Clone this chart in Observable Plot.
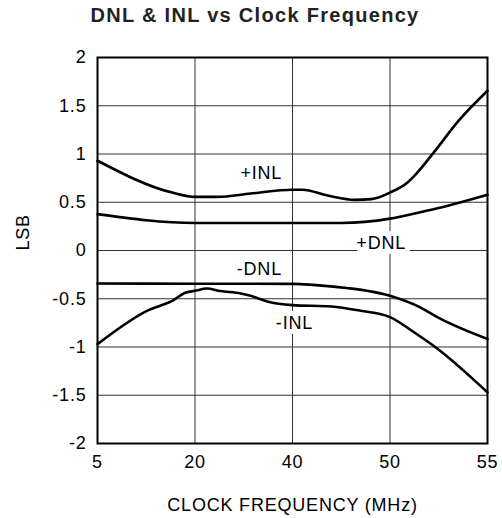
<!DOCTYPE html>
<html><head><meta charset="utf-8">
<script src="https://cdn.jsdelivr.net/npm/d3@7"></script>
<script src="https://cdn.jsdelivr.net/npm/@observablehq/plot@0.6"></script>
<style>
body{margin:0;background:#fff;font-family:"Liberation Sans",Arial,sans-serif;}
#title{height:34px;box-sizing:border-box;padding-top:3px;padding-left:8px;text-align:center;font-weight:bold;font-size:20px;line-height:24px;letter-spacing:1.3px;color:#222;}
#chart svg{display:block;}
#chart svg text{letter-spacing:0.8px;}
</style></head><body>
<div id="title">DNL &amp; INL vs Clock Frequency</div>
<div id="chart"></div>
<script>
// Tick values
const freqTicks = [5, 20, 40, 50, 55];          // MHz (equally spaced on the axis)
const lsbTicks = [-2, -1.5, -1, -0.5, 0, 0.5, 1, 1.5, 2];

// Curves: [clock frequency MHz, LSB]
const plusINL = [[5,0.93],[16.5,0.60],[20,0.556],[24.6,0.556],[31.4,0.59],[40,0.63],[41,0.63],[43.7,0.567],[46.4,0.525],[48.1,0.532],[50,0.60],[50.9,0.705],[51.25,0.774],[52.3,1.03],[53.5,1.34],[55,1.655]];
const plusDNL = [[5,0.377],[20,0.285],[45,0.285],[50,0.33],[51.6,0.40],[52.5,0.44],[55,0.577]];
const minusDNL = [[5,-0.342],[20,-0.344],[40,-0.346],[43.9,-0.372],[50,-0.47],[51.55,-0.59],[52.45,-0.694],[55,-0.918]];
const minusINL = [[5,-0.97],[12.6,-0.625],[16.7,-0.514],[18.4,-0.44],[20,-0.418],[22.4,-0.394],[25.2,-0.42],[29.4,-0.445],[31.4,-0.47],[34.8,-0.528],[40,-0.566],[44,-0.58],[47,-0.625],[50,-0.69],[51.25,-0.85],[52.45,-1.02],[55,-1.47]];

// Curve labels
const seriesNames = ["+INL", "+DNL", "-DNL", "-INL"];
const labelFreq = [33.6, 49.1, 33.2, 40.2];
const labelLSB = [0.80, 0.08, -0.19, -0.755];

// The frequency axis is equally spaced between its tick values
const toPos = d3.scaleLinear().domain(freqTicks).range(d3.range(freqTicks.length));
const curves = [plusINL, plusDNL, minusDNL, minusINL];
const rows = curves.flatMap((c, k) => c.map(([f, v]) => ({series: seriesNames[k], pos: toPos(f), lsb: v})));
const labels = seriesNames.map((name, k) => ({name, pos: toPos(labelFreq[k]), lsb: labelLSB[k]}));
const font = '"Liberation Sans", Arial, sans-serif';

const chart = Plot.plot({
  width: 502,
  height: 484,
  marginTop: 23,
  marginBottom: 75,
  marginLeft: 97,
  marginRight: 15,
  style: {fontFamily: font, fontSize: "18px", color: "black", background: "white"},
  x: {domain: [0, freqTicks.length - 1]},
  y: {domain: [-2, 2]},
  marks: [
    Plot.ruleY(lsbTicks.filter(v => v > -2 && v < 2), {stroke: "#333", strokeWidth: 1}),
    Plot.ruleX(freqTicks.slice(1, -1).map(f => toPos(f)), {stroke: "#333", strokeWidth: 1}),
    Plot.axisX(d3.range(freqTicks.length), {tickSize: 0, tickPadding: 12, tickFormat: i => String(freqTicks[i]), fontSize: 18, label: null}),
    Plot.axisY(lsbTicks, {tickSize: 0, tickPadding: 11, tickFormat: v => String(v), fontSize: 18, label: null}),
    Plot.text(labels, {x: "pos", y: "lsb", text: "name", fontSize: 18, fill: "black", stroke: "white", strokeWidth: 10, strokeLinejoin: "round"}),
    Plot.line(rows, {x: "pos", y: "lsb", z: "series", stroke: "black", strokeWidth: 2.6, curve: "monotone-x"}),
    Plot.frame({stroke: "black", strokeWidth: 2}),
    Plot.text(["CLOCK FREQUENCY (MHz)"], {text: d => d, frameAnchor: "bottom", dy: 67, lineAnchor: "bottom", fontSize: 18, fill: "black"}),
    Plot.text(["LSB"], {text: d => d, frameAnchor: "left", rotate: -90, dx: -69, lineAnchor: "bottom", fontSize: 18, fill: "black"})
  ]
});
document.getElementById("chart").appendChild(chart);
</script>
</body></html>
